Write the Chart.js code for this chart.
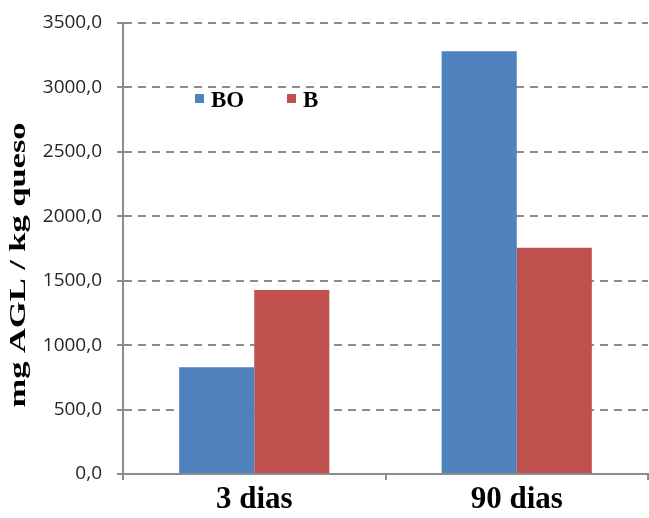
<!DOCTYPE html>
<html>
<head>
<meta charset="utf-8">
<title>AGL</title>
<script src="https://cdn.jsdelivr.net/npm/chart.js@4.4.0/dist/chart.umd.min.js"></script>
<style>
    html, body { margin: 0; padding: 0; background: #fff; }
    #wrap { width: 649px; height: 518px; }
</style>
</head>
<body>
<div id="wrap"><canvas id="aglChart"></canvas></div>
<script>
const categories = ['3 dias', '90 dias'];
const seriesNames = ['BO', 'B'];
const boValues = [828, 3280];
const bValues = [1428, 1756];
const yTicks = [0, 500, 1000, 1500, 2000, 2500, 3000, 3500];
const yTitle = 'mg AGL / kg queso';

document.addEventListener('DOMContentLoaded', () => {
    const canvas = document.getElementById('aglChart');
    const colors = ['#4F81BD', '#C0504D'];
    const serif = '"Liberation Serif", "Times New Roman", serif';

    // legend drawn inside the plot, like the original
    const innerLegend = {
        id: 'innerLegend',
        afterDraw(chart) {
            const ctx = chart.ctx;
            const area = chart.chartArea;
            const spots = [72, 164];
            ctx.save();
            ctx.font = 'bold 23px ' + serif;
            ctx.textBaseline = 'alphabetic';
            chart.data.datasets.forEach((ds, i) => {
                const x = area.left + spots[i];
                ctx.fillStyle = ds.backgroundColor;
                ctx.fillRect(x, 94, 9, 9);
                ctx.fillStyle = '#000';
                ctx.fillText(ds.label, x + 16, 107);
            });
            ctx.restore();
        }
    };

    // rotated axis title, a bit stretched along its length as in the source image
    const axisTitle = {
        id: 'axisTitle',
        afterDraw(chart) {
            const ctx = chart.ctx;
            ctx.save();
            ctx.translate(19, 265);
            ctx.rotate(-Math.PI / 2);
            ctx.font = 'bold 24px ' + serif;
            const w = ctx.measureText(yTitle).width;
            ctx.scale(285 / w, 1);
            ctx.fillStyle = '#000';
            ctx.textAlign = 'center';
            ctx.textBaseline = 'middle';
            ctx.fillText(yTitle, 0, 0);
            ctx.restore();
        }
    };

    new Chart(canvas, {
        type: 'bar',
        data: {
            labels: categories,
            datasets: [
                { label: seriesNames[0], data: boValues, backgroundColor: colors[0] },
                { label: seriesNames[1], data: bValues, backgroundColor: colors[1] }
            ]
        },
        options: {
            responsive: true,
            maintainAspectRatio: false,
            animation: false,
            layout: { padding: { top: 23, right: 1, left: 0, bottom: 0 } },
            datasets: {
                bar: { categoryPercentage: 0.572, barPercentage: 1.0 }
            },
            plugins: {
                legend: { display: false },
                tooltip: { enabled: false }
            },
            scales: {
                x: {
                    afterFit: (scale) => {
                        scale.height = 44;
                        scale.paddingLeft = 0;
                        scale.paddingRight = 0;
                    },
                    grid: {
                        drawOnChartArea: false,
                        drawTicks: true,
                        tickLength: 6,
                        color: '#8c8c8c',
                        lineWidth: 2
                    },
                    border: { color: '#8c8c8c', width: 2 },
                    ticks: {
                        padding: 1,
                        color: '#000',
                        font: { family: serif, size: 31, weight: 'bold' }
                    }
                },
                y: {
                    min: 0,
                    max: 3500,
                    afterBuildTicks: (scale) => {
                        scale.ticks = yTicks.map(v => ({ value: v }));
                    },
                    afterFit: (scale) => {
                        scale.width = 123;
                        scale.paddingTop = 0;
                        scale.paddingBottom = 0;
                    },
                    grid: {
                        color: '#8c8c8c',
                        lineWidth: 2,
                        tickLength: 6,
                        tickBorderDash: [8, 6]
                    },
                    border: { color: '#8c8c8c', width: 2, dash: [8, 6] },
                    ticks: {
                        padding: 15,
                        color: '#262626',
                        font: { family: '"Open Sans", sans-serif', size: 19 },
                        callback: (v) => Number(v).toFixed(1).replace('.', ',')
                    }
                }
            }
        },
        plugins: [innerLegend, axisTitle]
    });
});
</script>
</body>
</html>
